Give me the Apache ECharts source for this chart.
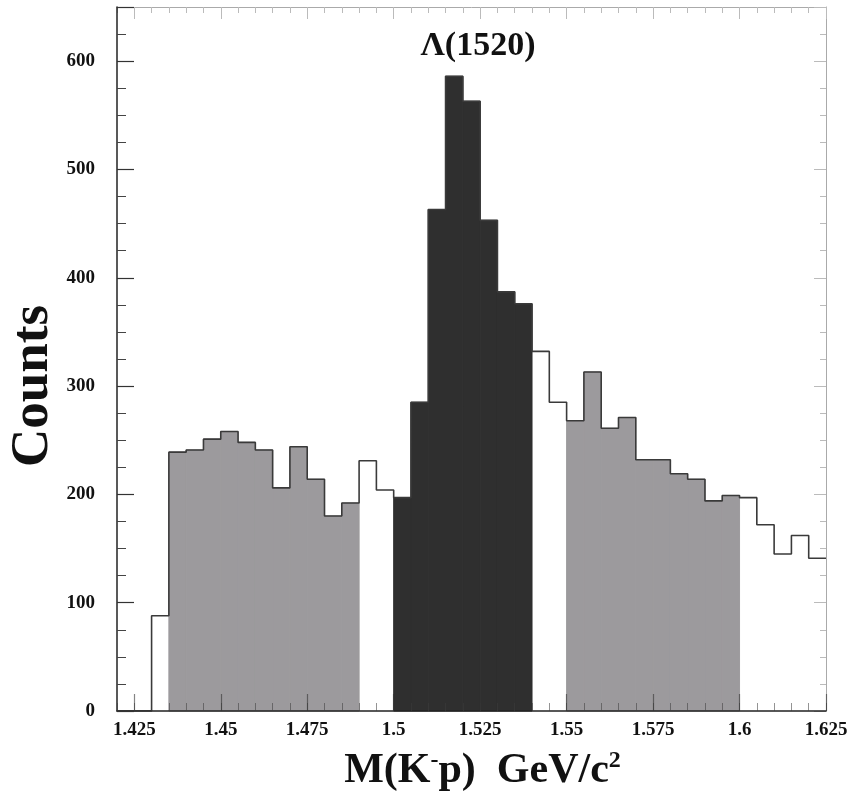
<!DOCTYPE html>
<html>
<head>
<meta charset="utf-8">
<script src="https://cdn.jsdelivr.net/npm/echarts@6/dist/echarts.min.js"></script>
<style>
  html, body { margin: 0; padding: 0; background: #ffffff; }
  #chart { width: 851px; height: 797px; }
</style>
</head>
<body>
<div id="chart"></div>
<script>
// ---- data ----
var binLow = [1.420, 1.425, 1.430, 1.435, 1.440, 1.445, 1.450, 1.455, 1.460, 1.465,
              1.470, 1.475, 1.480, 1.485, 1.490, 1.495, 1.500, 1.505, 1.510, 1.515,
              1.520, 1.525, 1.530, 1.535, 1.540, 1.545, 1.550, 1.555, 1.560, 1.565,
              1.570, 1.575, 1.580, 1.585, 1.590, 1.595, 1.600, 1.605, 1.610, 1.615,
              1.620];
var binWidth = 0.005;
var counts = [0, 0, 88, 239, 241, 251, 258, 248, 241, 206,
              244, 214, 180, 192, 231, 204, 197, 285, 463, 586,
              563, 453, 387, 376, 332, 285, 268, 313, 261, 271,
              232, 232, 219, 214, 194, 199, 197, 172, 145, 162,
              141];
var signalRange = [1.500, 1.540];
var sidebandRanges = [[1.435, 1.490], [1.550, 1.600]];
var xMajorTicks = [1.425, 1.45, 1.475, 1.5, 1.525, 1.55, 1.575, 1.6, 1.625];
var xRange = [1.42, 1.625];
var yRange = [0, 650];
var titleText = 'Λ(1520)';
var yName = 'Counts';

// ---- build ----
var EPS = 1e-9;
function kindOf(lo) {
  if (lo >= signalRange[0] - EPS && lo < signalRange[1] - EPS) return 2;
  for (var i = 0; i < sidebandRanges.length; i++) {
    if (lo >= sidebandRanges[i][0] - EPS && lo < sidebandRanges[i][1] - EPS) return 1;
  }
  return 0;
}
var fillData = binLow.map(function (lo, i) {
  return [lo, lo + binWidth, counts[i], kindOf(lo)];
});
var stepData = binLow.map(function (lo, i) { return [lo, counts[i]]; });
stepData.push([binLow[binLow.length - 1] + binWidth, counts[counts.length - 1]]);

var SERIF = "'Liberation Serif', 'Times New Roman', serif";
var fillColors = ['rgba(0,0,0,0)', '#9c9a9d', '#2f2f2f'];

function fmtX(v) {
  var s = (Math.round(v * 1000) / 1000).toFixed(3);
  return s.replace(/0+$/, '').replace(/\.$/, '');
}

var chart = echarts.init(document.getElementById('chart'), null, { renderer: 'canvas' });
var option = {
  backgroundColor: '#ffffff',
  animation: false,
  grid: { left: 117, right: 25, top: 7, bottom: 84, containLabel: false },
  xAxis: [
    { // minor ticks bottom
      type: 'value', min: xRange[0], max: xRange[1], interval: binWidth, position: 'bottom', z: 5,
      axisLine: { show: true, onZero: false, lineStyle: { color: '#222', width: 1.5 } },
      axisTick: { show: true, inside: true, length: 8, lineStyle: { color: 'rgba(60,60,60,0.55)', width: 1 } },
      axisLabel: { show: false }, splitLine: { show: false }
    },
    { // major ticks + labels bottom
      type: 'value', min: xRange[0], max: xRange[1], position: 'bottom', z: 5,
      axisLine: { show: false, onZero: false },
      axisTick: { show: true, inside: true, length: 17, customValues: xMajorTicks, lineStyle: { color: 'rgba(50,50,50,0.6)', width: 1.2 } },
      axisLabel: { show: true, customValues: xMajorTicks, formatter: fmtX, margin: 10,
                   fontFamily: SERIF, fontWeight: 'bold', fontSize: 19, color: '#111' },
      splitLine: { show: false },
      name: '{a|M(K}{s|-}{a|p)  GeV/c}{s|2}', nameLocation: 'middle', nameGap: 38,
      nameTextStyle: {
        padding: [0, 0, 0, 22],
        rich: {
          a: { fontFamily: SERIF, fontWeight: 'bold', fontSize: 42, color: '#111', lineHeight: 44 },
          s: { fontFamily: SERIF, fontWeight: 'bold', fontSize: 24, color: '#111', verticalAlign: 'top', lineHeight: 24 }
        }
      }
    },
    { // minor ticks top
      type: 'value', min: xRange[0], max: xRange[1], interval: binWidth, position: 'top',
      axisLine: { show: true, onZero: false, lineStyle: { color: '#aaa', width: 1 } },
      axisTick: { show: true, inside: true, length: 6, lineStyle: { color: '#bbb', width: 1 } },
      axisLabel: { show: false }, splitLine: { show: false }
    },
    { // major ticks top
      type: 'value', min: xRange[0], max: xRange[1], position: 'top',
      axisLine: { show: false, onZero: false },
      axisTick: { show: true, inside: true, length: 12, customValues: xMajorTicks, lineStyle: { color: '#bbb', width: 1 } },
      axisLabel: { show: false }, splitLine: { show: false }
    }
  ],
  yAxis: [
    {
      type: 'value', min: yRange[0], max: yRange[1], interval: 100, position: 'left', z: 5,
      axisLine: { show: true, onZero: false, lineStyle: { color: '#222', width: 1.5 } },
      axisTick: { show: true, inside: true, length: 17, lineStyle: { color: '#333', width: 1.2 } },
      minorTick: { show: true, splitNumber: 4, length: 9, lineStyle: { color: '#444', width: 1 } },
      axisLabel: { show: true, showMaxLabel: false, margin: 22, fontFamily: SERIF, fontWeight: 'bold', fontSize: 19, color: '#111' },
      splitLine: { show: false }, minorSplitLine: { show: false }
    },
    {
      type: 'value', min: yRange[0], max: yRange[1], interval: 100, position: 'right',
      axisLine: { show: true, onZero: false, lineStyle: { color: '#aaa', width: 1 } },
      axisTick: { show: true, inside: true, length: 12, lineStyle: { color: '#bbb', width: 1 } },
      minorTick: { show: true, splitNumber: 4, length: 6, lineStyle: { color: '#bbb', width: 1 } },
      axisLabel: { show: false }, splitLine: { show: false }
    }
  ],
  graphic: [
    { type: 'text', x: 478, y: 46, z: 100,
      style: { text: titleText, textAlign: 'center', textVerticalAlign: 'middle',
               font: "bold 34px 'Liberation Serif', 'Times New Roman', serif", fill: '#111' } },
    { type: 'text', x: 33, y: 386, rotation: Math.PI / 2, z: 100,
      style: { text: yName, textAlign: 'center', textVerticalAlign: 'middle',
               font: "bold 53px 'Liberation Serif', 'Times New Roman', serif", fill: '#111' } }
  ],
  series: [
    {
      type: 'custom', xAxisIndex: 0, yAxisIndex: 0, z: 2,
      data: fillData,
      encode: { x: [0, 1], y: 2 },
      renderItem: function (params, api) {
        var kind = api.value(3);
        if (kind === 0) return null;
        var p0 = api.coord([api.value(0), api.value(2)]);
        var p1 = api.coord([api.value(1), 0]);
        return {
          type: 'rect',
          shape: { x: p0[0], y: p0[1], width: p1[0] - p0[0], height: p1[1] - p0[1] },
          style: { fill: fillColors[kind], stroke: fillColors[kind], lineWidth: 1 }
        };
      }
    },
    {
      type: 'line', xAxisIndex: 0, yAxisIndex: 0, z: 3,
      data: stepData, step: 'end', showSymbol: false, symbol: 'none',
      lineStyle: { color: '#3a3a3a', width: 1.6 },
      silent: true
    }
  ]
};
chart.setOption(option);
</script>
</body>
</html>
